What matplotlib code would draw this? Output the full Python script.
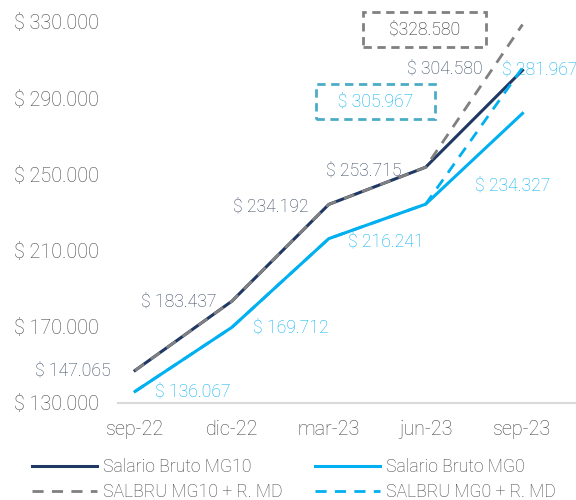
import matplotlib.pyplot as plt

plt.rcParams['font.family'] = ['Roboto', 'DejaVu Sans']
plt.rcParams['font.weight'] = 'light'

meses = ['sep-22', 'dic-22', 'mar-23', 'jun-23', 'sep-23']
mg10 = [147065, 183437, 234192, 253715, 304580]
mg0 = [136067, 169712, 216241, 234327, 281967]
mg10_md = [147065, 183437, 234192, 253715, 328580]
mg0_md = [136067, 169712, 216241, 234327, 305967]
y_ticks = [130000, 170000, 210000, 250000, 290000, 330000]

navy = '#203864'
azul = '#00B0F0'
gris = '#808080'
txt_navy = '#34445E'
txt_gris = '#454545'

def fmt(v):
    return '$ ' + f'{v:,}'.replace(',', '.')

fig = plt.figure(figsize=(5.76, 5.0), dpi=100)
ax = fig.add_axes([0.205, 0.194, 0.793, 0.77])
x = list(range(len(meses)))

l1, = ax.plot(x, mg10, color=navy, lw=2.2, label='Salario Bruto MG10')
l2, = ax.plot(x, mg0, color=azul, lw=2.2, label='Salario Bruto MG0')
l3, = ax.plot(x, mg10_md, color=gris, lw=2.0, ls=(0, (4, 3)), label='SALBRU MG10 + R. MD')
l4, = ax.plot(x, mg0_md, color=azul, lw=2.0, ls=(0, (4, 3)), label='SALBRU MG0 + R. MD')

ax.set_xlim(-0.175, 4.54)
ax.set_ylim(130000, 332000)
ax.set_xticks(x)
ax.set_xticklabels(meses)
ax.set_yticks(y_ticks)
ax.set_yticklabels([fmt(v) for v in y_ticks])
ax.tick_params(length=0, labelsize=14.2, colors=txt_gris)
ax.tick_params(axis='y', pad=14)
ax.tick_params(axis='x', pad=12)
for s in ['top', 'right', 'left']:
    ax.spines[s].set_visible(False)
ax.spines['bottom'].set_color('#D9D9D9')
ax.spines['bottom'].set_linewidth(1.5)

# etiquetas de datos (desplazamientos en pixeles)
off10 = [(-62, 0), (-53, 0), (-58, -2), (-62, -3), (-78, 2)]
off0 = [(58, 0), (59, 0), (57, -3), (87, 19), (17, 44)]
for i in range(len(meses)):
    ax.annotate(fmt(mg10[i]), (x[i], mg10[i]), xytext=off10[i], textcoords='offset pixels',
                ha='center', va='center', fontsize=12.7, color=txt_navy)
    ax.annotate(fmt(mg0[i]), (x[i], mg0[i]), xytext=off0[i], textcoords='offset pixels',
                ha='center', va='center', fontsize=12.7, color=azul)

ax.annotate('    $328.580    ', (4, mg10_md[4]), xytext=(-98, -5), textcoords='offset pixels',
            ha='center', va='center', fontsize=12.7, color='#262626',
            bbox=dict(boxstyle='square,pad=0.5', fc='white', ec=gris, lw=2, ls=(0, (3, 2))))
ax.annotate('   ' + fmt(mg0_md[4]) + '   ', (4, mg0_md[4]), xytext=(-147, -34), textcoords='offset pixels',
            ha='center', va='center', fontsize=12.7, color=azul,
            bbox=dict(boxstyle='square,pad=0.5', fc='white', ec='#4BACC6', lw=2, ls=(0, (3, 2))))

fig.legend(handles=[l1, l3, l2, l4], loc='upper center', bbox_to_anchor=(0.51, 0.115), ncol=2,
           frameon=False, fontsize=12.7, handlelength=3.7, handletextpad=0.35,
           columnspacing=1.8, labelspacing=0.4, labelcolor=txt_gris)

fig.savefig('out.png', dpi=100)
